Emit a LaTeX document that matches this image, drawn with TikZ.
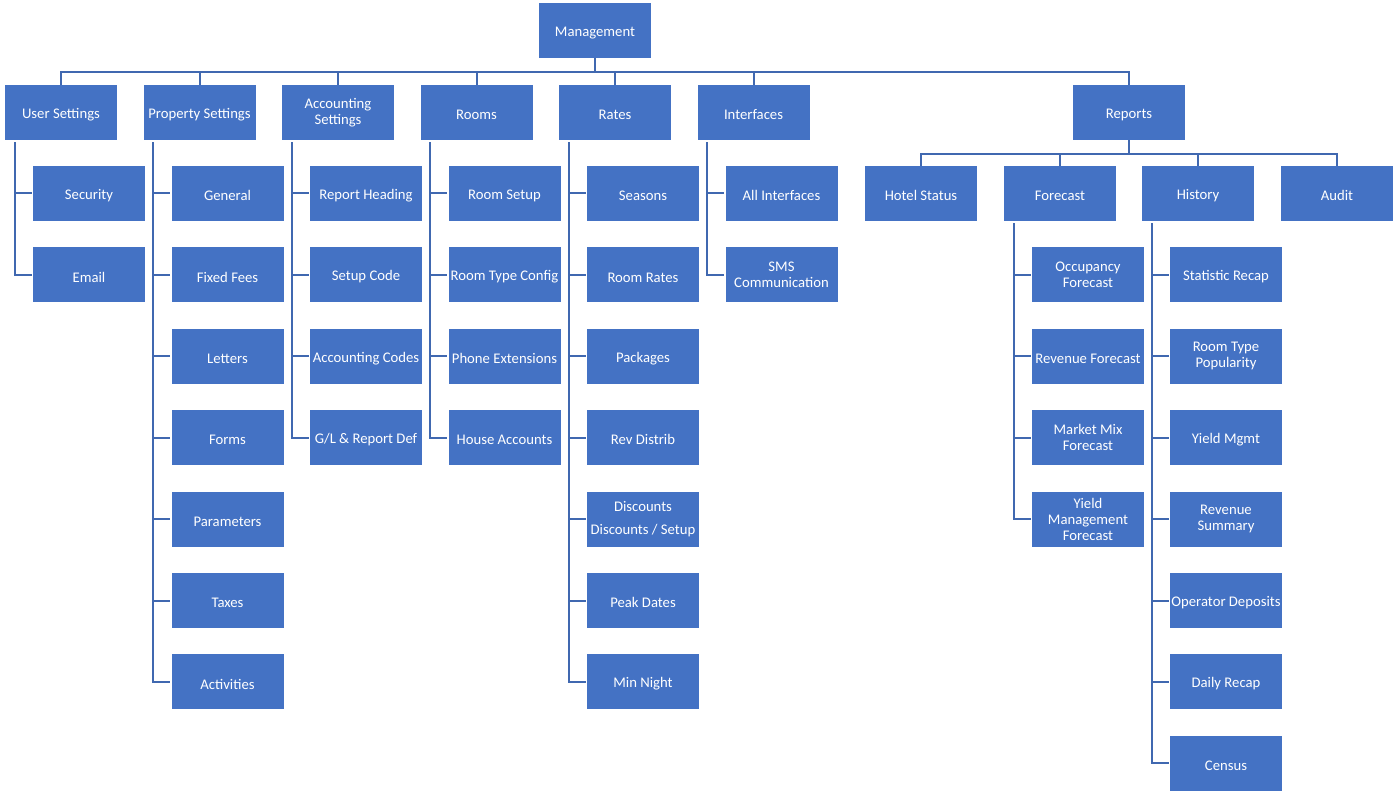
\documentclass[tikz,border=0pt]{standalone}
\usepackage{fontspec}
\setmainfont{Carlito}
\usetikzlibrary{calc}
\definecolor{boxblue}{HTML}{4472C4}
\definecolor{linkblue}{HTML}{4068B0}
\begin{document}
\begin{tikzpicture}[x=1pt,y=-1pt,
  box/.style={fill=boxblue, minimum width=112pt, minimum height=55pt, inner sep=0pt,
    text=white, align=center, font=\fontsize{14.7}{16}\selectfont,
    execute at begin node={\rule{0pt}{14.5pt}}},
  link/.style={draw=linkblue, line width=2pt}]
\useasboundingbox (0,0) rectangle (1397,799);
% top
\node[box] (mg) at (595,30.5) {Management};
\node[box] (us) at (61,112.5) {User Settings};
\node[box] (ps) at (199.5,112.5) {Property Settings};
\node[box] (as) at (338,112.5) {Accounting\\Settings};
\node[box] (ro) at (476.5,112.5) {Rooms};
\node[box] (ra) at (615,112.5) {Rates};
\node[box] (in) at (753.5,112.5) {Interfaces};
\node[box] (re) at (1129,112.5) {Reports};
% reports level 2
\node[box] (hs) at (921,193.5) {Hotel Status};
\node[box] (fc) at (1060,193.5) {Forecast};
\node[box] (hi) at (1198,193.5) {History};
\node[box] (au) at (1337,193.5) {Audit};
% children
\foreach [count=\i] \t in {Security,Email}
  \node[box] (us\i) at ({89},{193.5+81.4*(\i-1)}) {\t};
\foreach [count=\i] \t in {General,Fixed Fees,Letters,Forms,Parameters,Taxes,Activities}
  \node[box] (ps\i) at ({227.5},{193.5+81.4*(\i-1)}) {\t};
\foreach [count=\i] \t in {Report Heading,Setup Code,Accounting Codes,G/L \& Report Def}
  \node[box] (as\i) at ({366},{193.5+81.4*(\i-1)}) {\t};
\foreach [count=\i] \t in {Room Setup,Room Type Config,Phone Extensions,House Accounts}
  \node[box] (ro\i) at ({504.5},{193.5+81.4*(\i-1)}) {\t};
\foreach [count=\i] \t in {Seasons,Room Rates,Packages,Rev Distrib,{Discounts\\[7pt]Discounts / Setup},Peak Dates,Min Night}
  \node[box] (ra\i) at ({643},{193.5+81.4*(\i-1)}) {\t};
\foreach [count=\i] \t in {All Interfaces,{SMS\\Communication}}
  \node[box] (in\i) at ({781.5},{193.5+81.4*(\i-1)}) {\t};
\foreach [count=\i] \t in {{Occupancy\\Forecast},Revenue Forecast,{Market Mix\\Forecast},{Yield\\Management\\Forecast}}
  \node[box] (fc\i) at ({1088},{193.5+81.4*\i}) {\t};
\foreach [count=\i] \t in {Statistic Recap,{Room Type\\Popularity},Yield Mgmt,{Revenue\\Summary},Operator Deposits,Daily Recap,Census}
  \node[box] (hi\i) at ({1226},{193.5+81.4*\i}) {\t};
% connectors top
\coordinate (bus) at ($(mg.south)+(0,13.5)$);
\foreach \c in {us,ps,as,ro,ra,in,re}
  \draw[link] (mg.south) -- (bus) -| (\c.north);
\coordinate (rbus) at ($(re.south)+(0,14)$);
\foreach \c in {hs,fc,hi,au}
  \draw[link] (re.south) -- (rbus) -| (\c.north);
% connectors to children
\foreach \p/\n in {us/2,ps/7,as/4,ro/4,ra/7,in/2,fc/4,hi/7}
  \foreach \k in {1,...,\n}
    \draw[link] ([xshift=10pt,yshift=-2pt]\p.south west) |- ([xshift=-1pt]\p\k.west);
\end{tikzpicture}
\end{document}
